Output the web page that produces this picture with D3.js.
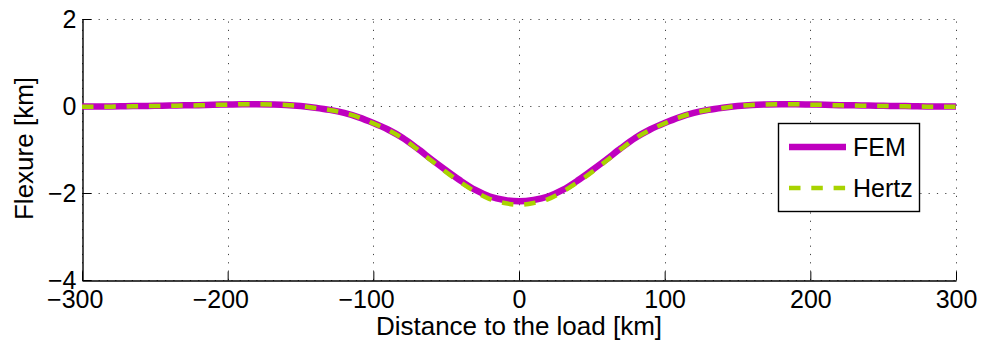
<!DOCTYPE html>
<html>
<head>
<meta charset="utf-8">
<script src="https://cdn.jsdelivr.net/npm/d3@7"></script>
<style>
    body { margin: 0; background: #ffffff; }
    #chart { width: 982px; height: 343px; }
    text { font-family: "Liberation Sans", Arial, Helvetica, sans-serif; fill: #000000; }
</style>
</head>
<body>
<div id="chart"></div>
<script>
///////////////////////////////////////////////////////////////////////////////////////////////////

// distance to the load [km]
var distance = [-300, -290, -280, -270, -260, -250, -240, -230, -220, -210,
                -200, -190, -180, -170, -160, -150, -140, -130, -120, -110,
                -100,  -90,  -80,  -70,  -60,  -50,  -40,  -30,  -20,  -10,
                   0,
                  10,   20,   30,   40,   50,   60,   70,   80,   90,  100,
                 110,  120,  130,  140,  150,  160,  170,  180,  190,  200,
                 210,  220,  230,  240,  250,  260,  270,  280,  290,  300];

// flexure [km], finite element model
var fem = [-0.01, -0.01, -0.01, -0.005, 0.0, 0.005, 0.01, 0.015, 0.02, 0.03,
            0.035, 0.04, 0.04, 0.035, 0.025, 0.0, -0.04, -0.09, -0.16, -0.26,
           -0.39, -0.54, -0.73, -0.97, -1.23, -1.48, -1.72, -1.93, -2.08, -2.16,
           -2.19,
           -2.16, -2.08, -1.93, -1.72, -1.48, -1.23, -0.97, -0.73, -0.54, -0.39,
           -0.26, -0.16, -0.09, -0.04, 0.0, 0.025, 0.035, 0.04, 0.04, 0.035,
            0.03, 0.02, 0.015, 0.01, 0.005, 0.0, -0.005, -0.01, -0.01, -0.01];

// flexure [km], Hertz solution
var hertz = [-0.02, -0.02, -0.015, -0.01, -0.005, 0.0, 0.005, 0.01, 0.015, 0.025,
              0.03, 0.04, 0.04, 0.035, 0.025, 0.0, -0.045, -0.09, -0.16, -0.26,
             -0.40, -0.55, -0.74, -0.99, -1.26, -1.52, -1.76, -1.97, -2.14, -2.23,
             -2.27,
             -2.23, -2.14, -1.97, -1.76, -1.52, -1.26, -0.99, -0.74, -0.55, -0.40,
             -0.26, -0.16, -0.09, -0.045, 0.0, 0.025, 0.035, 0.04, 0.04, 0.03,
              0.025, 0.015, 0.01, 0.005, 0.0, -0.005, -0.01, -0.015, -0.02, -0.02];

var x_ticks = [-300, -200, -100, 0, 100, 200, 300];
var y_ticks = [-4, -2, 0, 2];

var series_names  = ["FEM", "Hertz"];
var series_colors = ["#bf00bf", "#a8d300"];

///////////////////////////////////////////////////////////////////////////////////////////////////

function flexure_plot(element_id) {
    //////////////////////////////////////////////////////////////////////
    //
    // Draws the flexure profiles (FEM vs Hertz) in a MATLAB-like style
    //
    //////////////////////////////////////////////////////////////////////
    var svg_width = 982;
    var svg_height = 343;
    var margin = { top: 19, right: 26, bottom: 63, left: 82 };
    var font_size = 25;
    var label_size = 26;

    var svg = d3.select('#' + element_id)
      .append("svg")
        .attr("width",  svg_width)
        .attr("height", svg_height);

    var x = d3.scaleLinear()
        .domain([-300, 300])
        .range([margin.left, svg_width - margin.right]);
    var y = d3.scaleLinear()
        .domain([-4, 2])
        .range([svg_height - margin.bottom, margin.top]);

    // dotted grid
    var grid = svg.append("g").attr("class", "grid");
    grid.selectAll(".vgrid")
        .data(x_ticks)
        .join("line")
            .attr("x1", function(d) { return Math.round(x(d)) + 0.5; })
            .attr("x2", function(d) { return Math.round(x(d)) + 0.5; })
            .attr("y1", y(-4))
            .attr("y2", y(2))
            .attr("stroke", "#444")
            .attr("stroke-width", 1)
            .attr("stroke-dasharray", "1.2,7.1");
    grid.selectAll(".hgrid")
        .data(y_ticks)
        .join("line")
            .attr("x1", x(-300))
            .attr("x2", x(300))
            .attr("y1", function(d) { return Math.round(y(d)) + 0.5; })
            .attr("y2", function(d) { return Math.round(y(d)) + 0.5; })
            .attr("stroke", "#444")
            .attr("stroke-width", 1)
            .attr("stroke-dasharray", "1.2,7.1");

    // left and bottom axes with inward ticks
    var x_axis = svg.append("g")
        .attr("transform", "translate(0," + (Math.round(y(-4)) + 0.5) + ")")
        .call(d3.axisBottom(x).tickValues(x_ticks).tickSizeInner(-9).tickSizeOuter(0)
            .tickFormat(function(d) { return d < 0 ? "\u2212" + Math.abs(d) : d; }));
    var y_axis = svg.append("g")
        .attr("transform", "translate(" + (Math.round(x(-300)) + 0.5) + ",0)")
        .call(d3.axisLeft(y).tickValues(y_ticks).tickSizeInner(-9).tickSizeOuter(0)
            .tickFormat(function(d) { return d < 0 ? "\u2212" + Math.abs(d) : d; }));

    [x_axis, y_axis].forEach(function(a) {
        a.select(".domain").attr("stroke", "#000").attr("stroke-width", 1.4);
        a.selectAll(".tick line").attr("stroke", "#000").attr("stroke-width", 1);
        a.selectAll(".tick text")
            .style("font-family", "'Liberation Sans', Arial, sans-serif")
            .style("font-size", font_size + "px")
            .attr("fill", "#000");
    });
    // digits centred on the tick, the minus sign hangs to the left
    x_axis.selectAll(".tick text")
        .attr("y", 10)
        .attr("dy", "0.71em")
        .attr("dx", function(d) { return d < 0 ? -7.3 : 0; });
    y_axis.selectAll(".tick text").attr("x", -6).attr("dy", "0.35em");

    // curves
    var line_fem = d3.line()
        .x(function(d, i) { return x(distance[i]); })
        .y(function(d) { return y(d); })
        .curve(d3.curveMonotoneX);

    svg.append("path")
        .datum(fem)
        .attr("d", line_fem)
        .attr("fill", "none")
        .attr("stroke", series_colors[0])
        .attr("stroke-width", 6.5);

    svg.append("path")
        .datum(hertz)
        .attr("d", line_fem)
        .attr("fill", "none")
        .attr("stroke", series_colors[1])
        .attr("stroke-width", 4.5)
        .attr("stroke-dasharray", "11.5,10.8");

    // axis labels
    svg.append("text")
        .attr("x", (x(-300) + x(300)) / 2)
        .attr("y", 335)
        .style("text-anchor", "middle")
        .style("font-size", label_size + "px")
        .text("Distance to the load [km]");

    svg.append("text")
        .attr("transform", "translate(33," + ((y(-4) + y(2)) / 2 - 1) + ") rotate(-90)")
        .style("text-anchor", "middle")
        .style("font-size", label_size + "px")
        .text("Flexure [km]");

    // legend
    var legend = svg.append("g").attr("class", "legend");
    legend.append("rect")
        .attr("x", 778.5)
        .attr("y", 123.5)
        .attr("width", 141)
        .attr("height", 88)
        .attr("fill", "#ffffff")
        .attr("stroke", "#000")
        .attr("stroke-width", 1.4);

    var legend_y = [147, 188];
    series_names.forEach(function(name, i) {
        legend.append("line")
            .attr("x1", 789)
            .attr("x2", 846)
            .attr("y1", legend_y[i])
            .attr("y2", legend_y[i])
            .attr("stroke", series_colors[i])
            .attr("stroke-width", i === 0 ? 6.5 : 4.5)
            .attr("stroke-dasharray", i === 0 ? null : "11.5,10.8");
        legend.append("text")
            .attr("x", 853)
            .attr("y", legend_y[i])
            .attr("dy", "0.36em")
            .style("font-size", font_size + "px")
            .text(name);
    });

} // end function

///////////////////////////////////////////////////////////////////////////////////////////////////

flexure_plot("chart");
</script>
</body>
</html>
